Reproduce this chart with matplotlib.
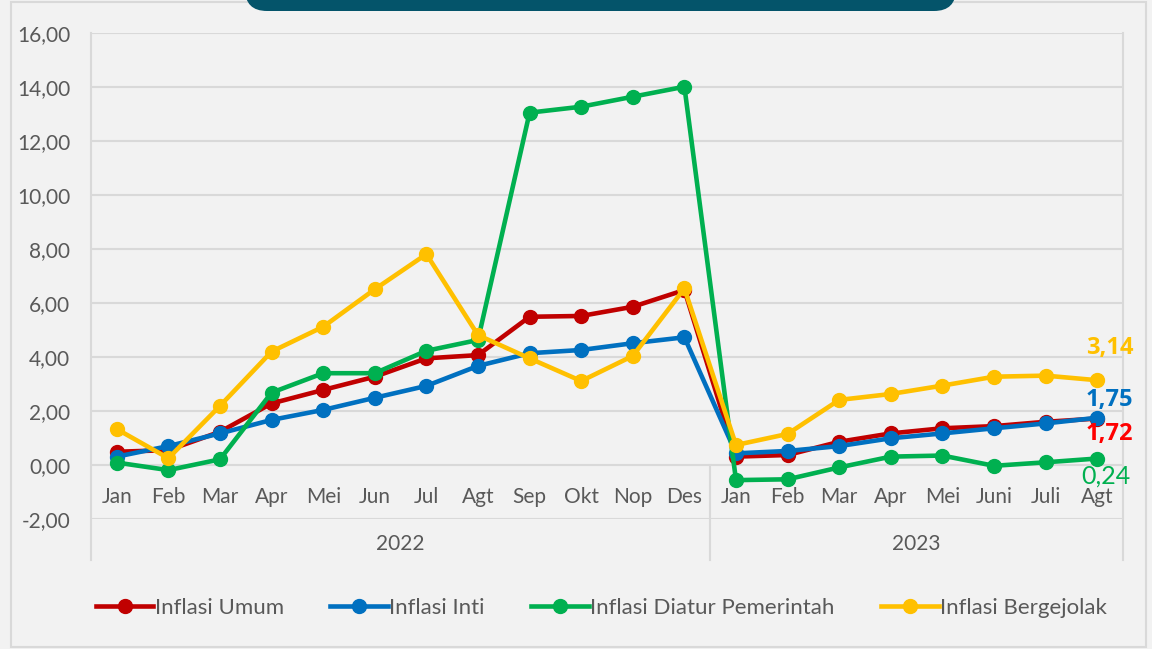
import matplotlib.pyplot as plt
from matplotlib.patches import FancyBboxPatch, Rectangle

plt.rcParams['font.family'] = ['Lato', 'DejaVu Sans']

months = ["Jan", "Feb", "Mar", "Apr", "Mei", "Jun", "Jul", "Agt", "Sep", "Okt", "Nop", "Des",
          "Jan", "Feb", "Mar", "Apr", "Mei", "Juni", "Juli", "Agt"]
years = ["2022", "2023"]

inflasi_umum = [0.49, 0.55, 1.23, 2.28, 2.78, 3.27, 3.95, 4.07, 5.49, 5.52, 5.86, 6.48,
                0.31, 0.37, 0.86, 1.17, 1.36, 1.44, 1.60, 1.72]
inflasi_inti = [0.31, 0.70, 1.17, 1.67, 2.04, 2.49, 2.93, 3.67, 4.14, 4.26, 4.51, 4.73,
                0.43, 0.52, 0.70, 0.99, 1.17, 1.36, 1.54, 1.75]
inflasi_diatur = [0.09, -0.19, 0.21, 2.68, 3.40, 3.40, 4.23, 4.63, 13.05, 13.27, 13.64, 14.01,
                  -0.56, -0.53, -0.09, 0.31, 0.35, -0.03, 0.10, 0.24]
inflasi_bergejolak = [1.33, 0.25, 2.19, 4.20, 5.12, 6.51, 7.81, 4.81, 3.95, 3.11, 4.04, 6.54,
                      0.74, 1.15, 2.41, 2.63, 2.94, 3.27, 3.31, 3.14]
y_ticks = [-2, 0, 2, 4, 6, 8, 10, 12, 14, 16]

series = [
    ("Inflasi Umum", inflasi_umum, "#C00000"),
    ("Inflasi Inti", inflasi_inti, "#0070C0"),
    ("Inflasi Diatur Pemerintah", inflasi_diatur, "#00B050"),
    ("Inflasi Bergejolak", inflasi_bergejolak, "#FFC000"),
]

W, H = 1152, 649
fig = plt.figure(figsize=(W / 100, H / 100), dpi=100, facecolor="#F2F2F2")

# background layer in pixel coordinates
bg = fig.add_axes([0, 0, 1, 1], zorder=-1)
bg.set_xlim(0, W)
bg.set_ylim(H, 0)
bg.axis("off")
bg.add_patch(Rectangle((11, 2), 1135, 645, fill=False, edgecolor="#D9D9D9", lw=1.5))
bg.add_patch(FancyBboxPatch((245, -40), 711, 51, boxstyle="round,pad=0,rounding_size=22",
                            facecolor="#04546A", edgecolor="none"))

ax = fig.add_axes([91 / W, 1 - 519 / H, (1123 - 91) / W, (519 - 33) / H])
ax.set_facecolor("none")
x = list(range(len(months)))

for name, vals, color in series:
    ax.plot(x, vals, color=color, lw=3.3, marker="o", markersize=10, label=name,
            solid_joinstyle="round")

ax.set_xlim(-0.5, len(months) - 0.5)
ax.set_ylim(-2, 16)
ax.set_yticks(y_ticks)
ax.set_yticklabels([f"{v:.2f}".replace(".", ",") for v in y_ticks])
ax.tick_params(axis="y", length=0, pad=15, labelsize=15, labelcolor="#595959")
ax.set_xticks([])
for s in ax.spines.values():
    s.set_visible(False)
for v in y_ticks:
    ax.axhline(v, color="#D9D9D9", lw=1.5, zorder=0)

# category axis lines and labels
grid_c = "#D9D9D9"
ax.plot([-0.5, -0.5], [16, -3.52], color=grid_c, lw=1.5, clip_on=False, zorder=0)
ax.plot([19.5, 19.5], [16, -3.52], color=grid_c, lw=1.5, clip_on=False, zorder=0)
ax.plot([11.5, 11.5], [0, -3.52], color=grid_c, lw=1.5, clip_on=False, zorder=0)
for i, m in enumerate(months):
    ax.text(i, -1.2, m, ha="center", va="center", fontsize=15, color="#595959")
ax.text(5.5, -2.93, years[0], ha="center", va="center", fontsize=15, color="#595959")
ax.text(15.5, -2.93, years[1], ha="center", va="center", fontsize=15, color="#595959")

# end labels
last = len(months) - 1
bold = dict(fontsize=17, fontweight="bold", family=["Open Sans", "DejaVu Sans"],
            ha="center", va="center", textcoords="offset points")
ax.annotate(f"{inflasi_bergejolak[-1]:.2f}".replace(".", ","), (last, inflasi_bergejolak[-1]),
            xytext=(9, 23), color="#FFC000", **bold)
ax.annotate(f"{inflasi_inti[-1]:.2f}".replace(".", ","), (last, inflasi_inti[-1]),
            xytext=(9, 13), color="#0070C0", **bold)
ax.annotate(f"{inflasi_umum[-1]:.2f}".replace(".", ","), (last, inflasi_umum[-1]),
            xytext=(9, -11), color="#FF0000", **bold)
ax.annotate(f"{inflasi_diatur[-1]:.2f}".replace(".", ","), (last, inflasi_diatur[-1]),
            xytext=(6, -12.5), textcoords="offset points", ha="center", va="center",
            fontsize=18, color="#00B050")

leg = fig.legend(loc="center", bbox_to_anchor=(0.522, 1 - 608 / H), ncol=4, frameon=False,
                 fontsize=16, handlelength=2.6, handletextpad=0.05, columnspacing=2.1,
                 labelcolor="#595959")

fig.savefig("out.png", dpi=100, facecolor=fig.get_facecolor())
